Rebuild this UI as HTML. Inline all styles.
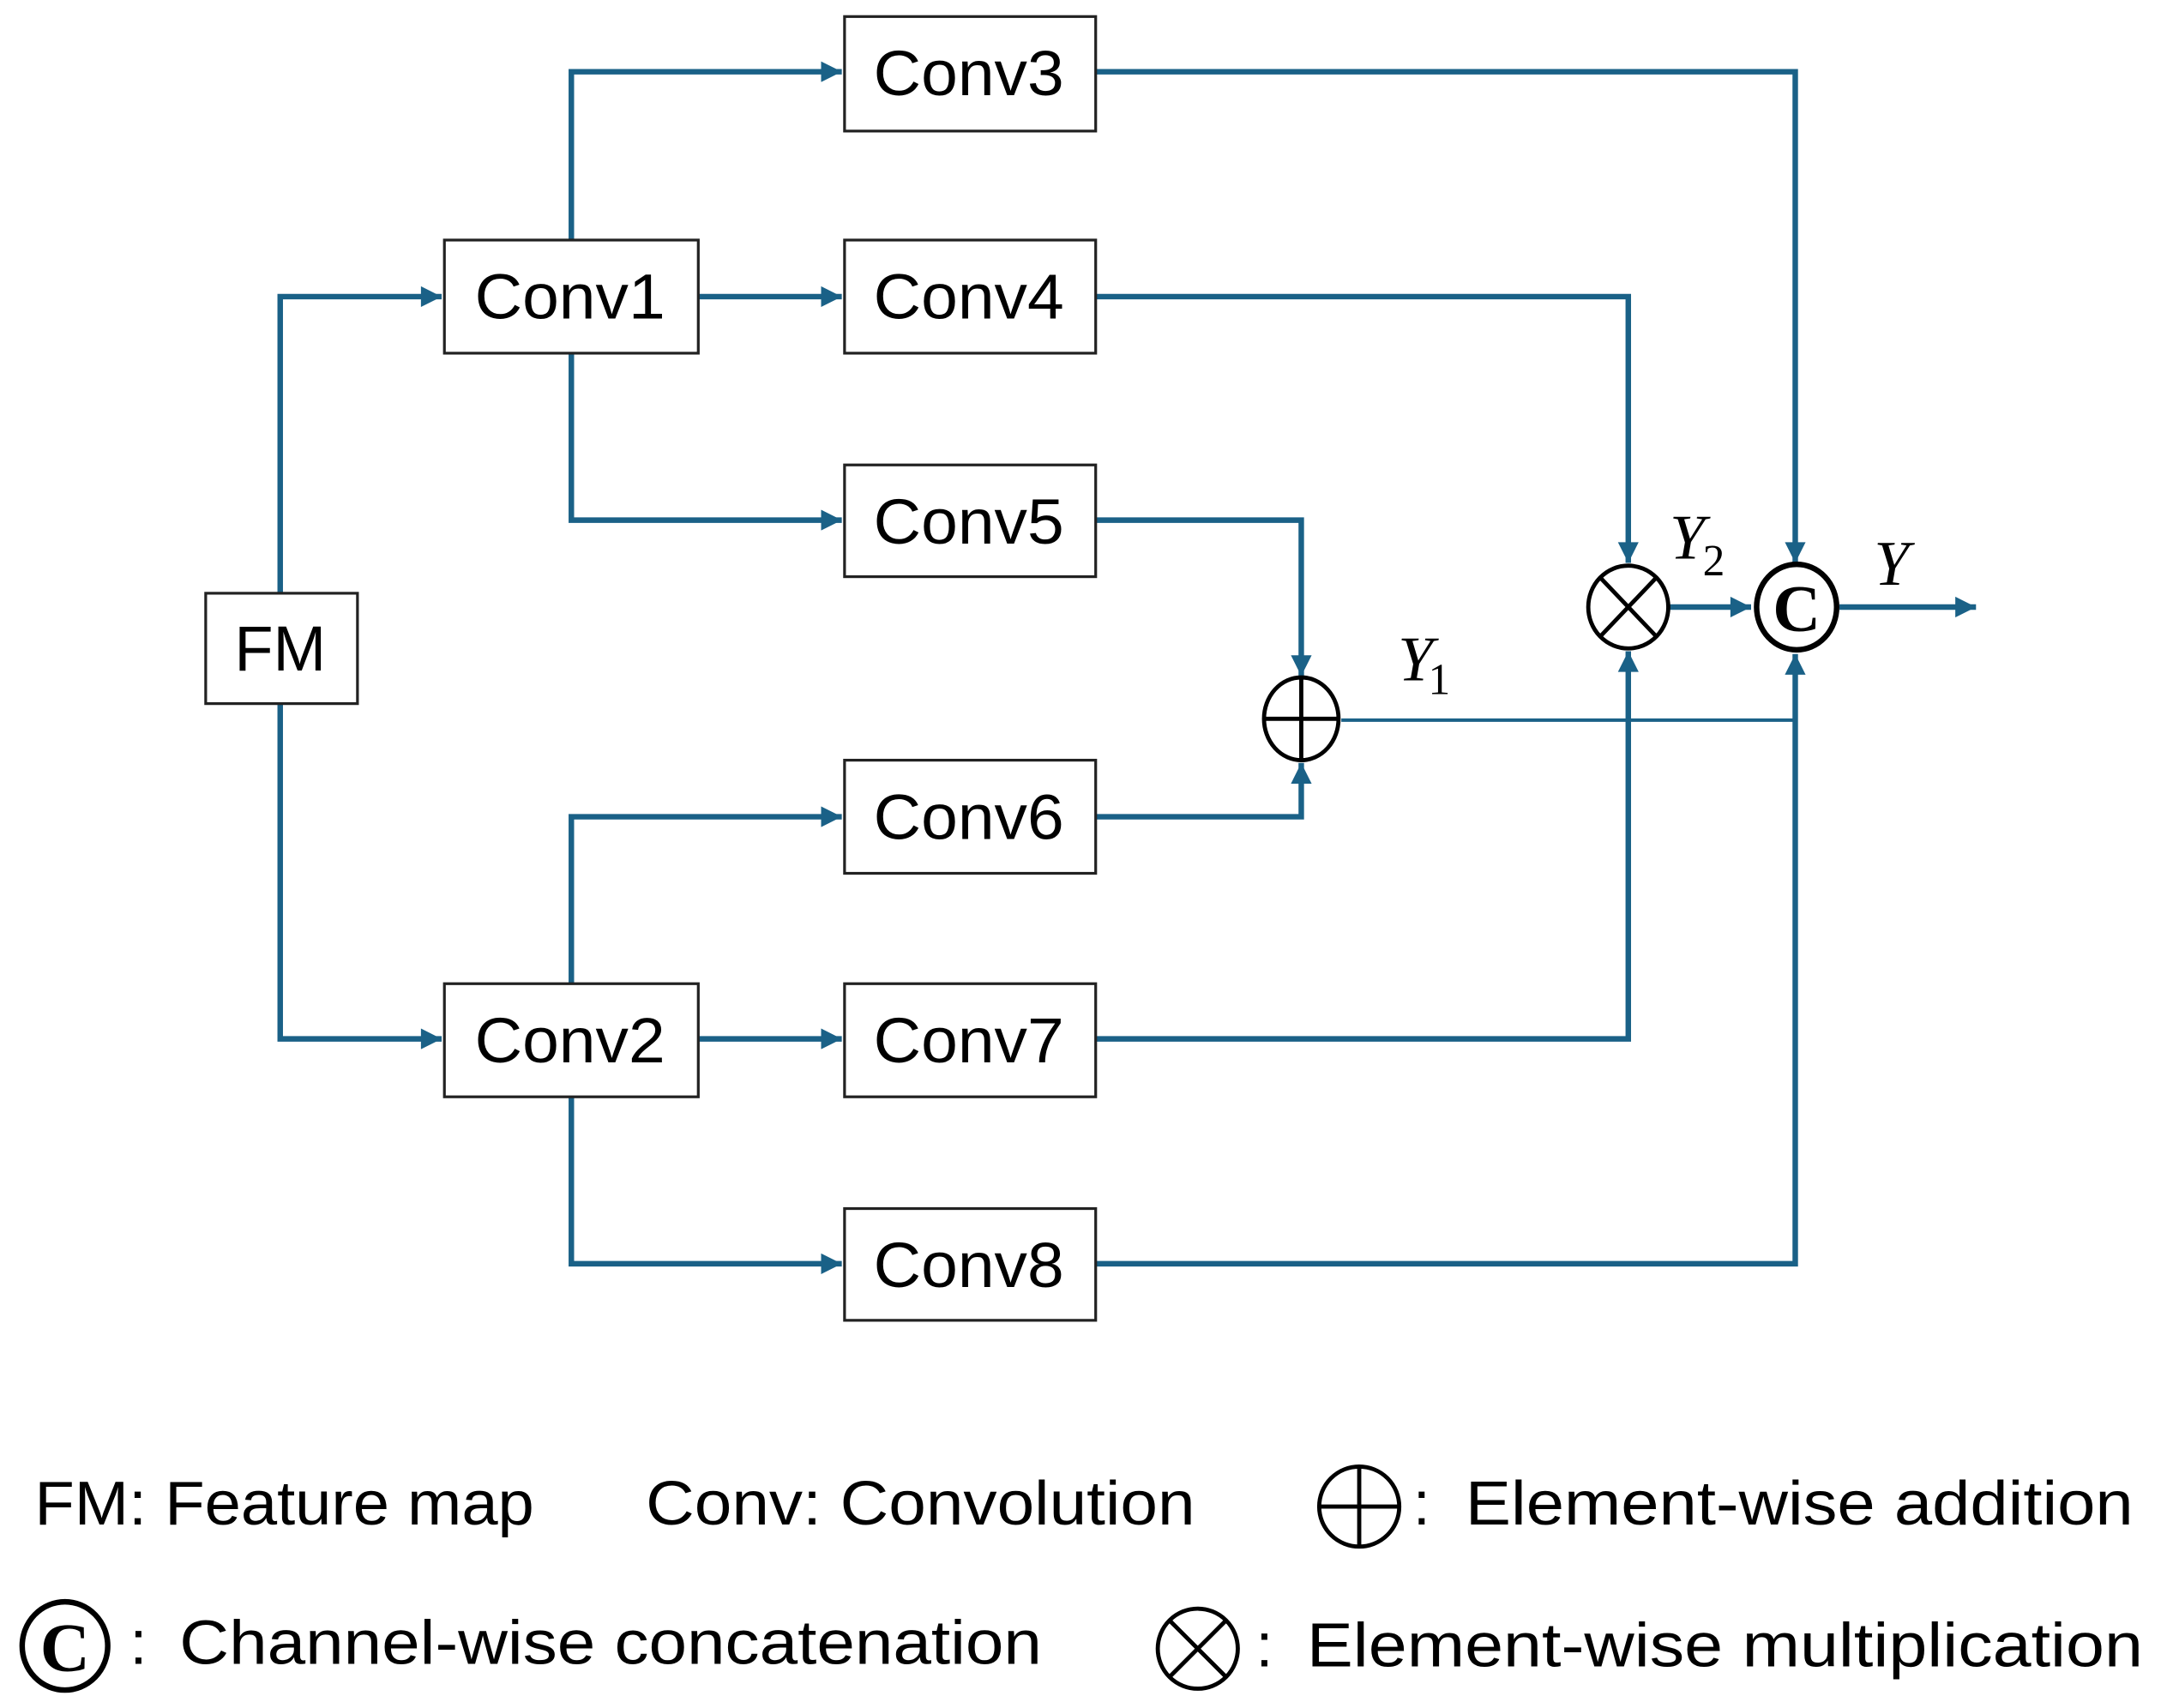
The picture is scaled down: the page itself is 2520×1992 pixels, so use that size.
<!DOCTYPE html>
<html><head><meta charset="utf-8"><style>html,body{margin:0;padding:0;background:#fff}svg{display:block}</style></head>
<body>
<svg width="2520" height="1992" viewBox="0 0 1566 1238" xmlns="http://www.w3.org/2000/svg">
<defs>
<marker id="b" viewBox="0 0 10 10" refX="10" refY="5" markerWidth="17" markerHeight="15" orient="auto" markerUnits="userSpaceOnUse"><path d="M0,0 L10,5 L0,10 z" fill="#1a6187"/></marker>
</defs>
<g fill="none" stroke="#1a6187" stroke-width="4">
<polyline points="203,430 203,215 320,215" marker-end="url(#b)"/>
<polyline points="203,510 203,753 320,753" marker-end="url(#b)"/>
<polyline points="414,174 414,52 610,52" marker-end="url(#b)"/>
<polyline points="506,215 610,215" marker-end="url(#b)"/>
<polyline points="414,256 414,377 610,377" marker-end="url(#b)"/>
<polyline points="414,713 414,592 610,592" marker-end="url(#b)"/>
<polyline points="506,753 610,753" marker-end="url(#b)"/>
<polyline points="414,795 414,916 610,916" marker-end="url(#b)"/>
<polyline points="794,52 1301,52 1301,408" marker-end="url(#b)"/>
<polyline points="794,215 1180,215 1180,408" marker-end="url(#b)"/>
<polyline points="794,377 943,377 943,490" marker-end="url(#b)"/>
<polyline points="794,592 943,592 943,553" marker-end="url(#b)"/>
<polyline points="794,753 1180,753 1180,472" marker-end="url(#b)"/>
<polyline points="794,916 1301,916 1301,474" marker-end="url(#b)"/>
<polyline points="1210,440 1269,440" marker-end="url(#b)"/>
<polyline points="1333,440 1432,440" marker-end="url(#b)"/>
<line x1="972" y1="522" x2="1301" y2="522" stroke-width="2.5"/>
</g>
<g fill="#fff" stroke="#222" stroke-width="2">
<rect x="149" y="430" width="110" height="80"/>
<rect x="322" y="174" width="184" height="82"/>
<rect x="322" y="713" width="184" height="82"/>
<rect x="612" y="12" width="182" height="83"/>
<rect x="612" y="174" width="182" height="82"/>
<rect x="612" y="337" width="182" height="81"/>
<rect x="612" y="551" width="182" height="82"/>
<rect x="612" y="713" width="182" height="82"/>
<rect x="612" y="876" width="182" height="81"/>
</g>
<g font-family="Liberation Sans, sans-serif" font-size="46" fill="#000" text-anchor="middle">
<text x="203" y="486">FM</text>
<text x="413" y="231" textLength="138" lengthAdjust="spacingAndGlyphs">Conv1</text>
<text x="413" y="770" textLength="138" lengthAdjust="spacingAndGlyphs">Conv2</text>
<text x="702" y="69" textLength="138" lengthAdjust="spacingAndGlyphs">Conv3</text>
<text x="702" y="231" textLength="138" lengthAdjust="spacingAndGlyphs">Conv4</text>
<text x="702" y="394" textLength="138" lengthAdjust="spacingAndGlyphs">Conv5</text>
<text x="702" y="608" textLength="138" lengthAdjust="spacingAndGlyphs">Conv6</text>
<text x="702" y="770" textLength="138" lengthAdjust="spacingAndGlyphs">Conv7</text>
<text x="702" y="933" textLength="138" lengthAdjust="spacingAndGlyphs">Conv8</text>
</g>
<g fill="#fff" stroke="#000" stroke-width="3">
<ellipse cx="943" cy="521" rx="27" ry="30"/>
<ellipse cx="1180" cy="440" rx="29" ry="30"/>
<ellipse cx="1302" cy="440" rx="29" ry="31" stroke-width="4"/>
<ellipse cx="985" cy="1092" rx="29" ry="29"/>
<ellipse cx="47" cy="1193" rx="31" ry="32" stroke-width="4"/>
<ellipse cx="868" cy="1195" rx="29" ry="29"/>
</g>
<g stroke="#000" stroke-width="3">
<line x1="943" y1="491" x2="943" y2="551"/><line x1="916" y1="521" x2="970" y2="521"/>
<line x1="1160" y1="419" x2="1200" y2="461"/><line x1="1200" y1="419" x2="1160" y2="461"/>
<line x1="985" y1="1063" x2="985" y2="1121"/><line x1="956" y1="1092" x2="1014" y2="1092"/>
<line x1="848" y1="1175" x2="888" y2="1215"/><line x1="888" y1="1175" x2="848" y2="1215"/>
</g>
<g font-family="Liberation Serif, serif" fill="#000">
<text x="1302" y="457" font-size="48" font-weight="bold" text-anchor="middle">C</text>
<text x="47" y="1211" font-size="50" font-weight="bold" text-anchor="middle">C</text>
<text x="1013" y="493" font-size="46" font-style="italic">Y</text><text x="1035" y="503" font-size="32">1</text>
<text x="1210" y="405" font-size="46" font-style="italic">Y</text><text x="1234" y="417" font-size="32">2</text>
<text x="1358" y="424" font-size="46" font-style="italic">Y</text>
</g>
<g font-family="Liberation Sans, sans-serif" font-size="45" fill="#000">
<text x="25" y="1105" textLength="362" lengthAdjust="spacingAndGlyphs">FM: Feature map</text>
<text x="468" y="1105" textLength="398" lengthAdjust="spacingAndGlyphs">Conv: Convolution</text>
<text x="1024" y="1105">:</text>
<text x="1062" y="1105" textLength="484" lengthAdjust="spacingAndGlyphs">Element-wise addition</text>
<text x="94" y="1206">:</text>
<text x="130" y="1206" textLength="625" lengthAdjust="spacingAndGlyphs">Channel-wise concatenation</text>
<text x="910" y="1208">:</text>
<text x="947" y="1208" textLength="606" lengthAdjust="spacingAndGlyphs">Element-wise multiplication</text>
</g>
</svg>
</body></html>
